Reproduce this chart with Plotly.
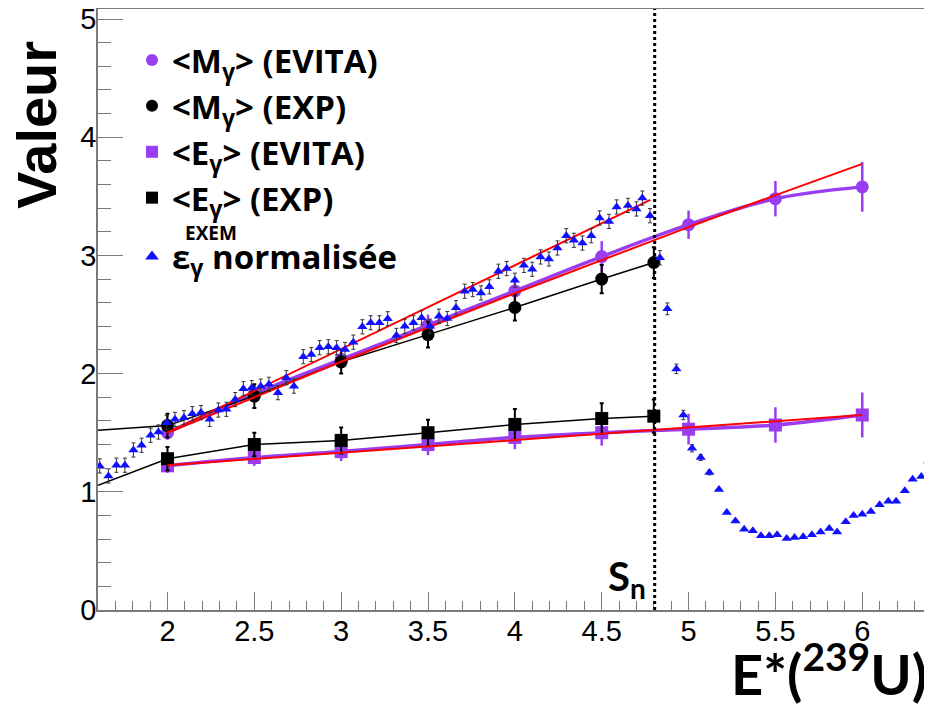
import plotly.graph_objects as go

# ---------------- data ----------------
E_evita_x = [2.0, 2.5, 3.0, 3.5, 4.0, 4.5, 5.0, 5.5, 6.0]
M_evita = [1.50, 1.83, 2.12, 2.41, 2.70, 2.99, 3.26, 3.48, 3.58]
M_evita_err = [0.06, 0.07, 0.08, 0.09, 0.10, 0.13, 0.12, 0.15, 0.21]
Eg_evita = [1.22, 1.29, 1.34, 1.40, 1.46, 1.50, 1.53, 1.565, 1.65]
Eg_evita_err = [0.06, 0.07, 0.08, 0.09, 0.10, 0.11, 0.13, 0.15, 0.19]

E_exp_x = [2.0, 2.5, 3.0, 3.5, 4.0, 4.5, 4.8]
M_exp = [1.56, 1.81, 2.10, 2.33, 2.56, 2.80, 2.94]
M_exp_err = [0.10, 0.10, 0.10, 0.11, 0.11, 0.12, 0.13]
Eg_exp = [1.28, 1.40, 1.435, 1.50, 1.57, 1.62, 1.64]
Eg_exp_err = [0.10, 0.10, 0.11, 0.11, 0.13, 0.13, 0.14]
# left extension of the EXP connecting lines
exp_line_x0 = 1.6
M_exp_y0 = 1.52
Eg_exp_y0 = 1.056

# red fits
fit_eps_x = [2.0, 4.78]
fit_eps_y = [1.50, 3.47]
fit_M_x = [2.0, 3.0, 4.0, 5.0, 6.0]
fit_M_y = [1.50, 2.10, 2.68, 3.24, 3.775]
fit_E_x = [2.0, 6.0]
fit_E_y = [1.225, 1.65]

eps_x = [1.61, 1.66, 1.706, 1.755, 1.804, 1.851, 1.903, 1.948, 1.995, 2.043, 2.095,
         2.143, 2.193, 2.243, 2.293, 2.339, 2.39, 2.437, 2.485, 2.537, 2.584, 2.636,
         2.684, 2.728, 2.782, 2.828, 2.876, 2.926, 2.974, 3.022, 3.07, 3.122, 3.17,
         3.22, 3.268, 3.318, 3.366, 3.416, 3.463, 3.511, 3.563, 3.611, 3.661, 3.711,
         3.757, 3.805, 3.853, 3.905, 3.953, 4.0, 4.052, 4.1, 4.148, 4.196, 4.245,
         4.296, 4.34, 4.389, 4.44, 4.488, 4.542, 4.586, 4.651, 4.70, 4.734, 4.778,
         4.835, 4.878, 4.93, 4.97, 5.02, 5.07, 5.12, 5.175, 5.22, 5.27, 5.32,
         5.37, 5.417, 5.465, 5.51, 5.565, 5.61, 5.66, 5.71, 5.76, 5.81, 5.855,
         5.905, 5.95, 6.0, 6.05, 6.10, 6.15, 6.195, 6.245, 6.29, 6.34, 6.38]
eps_y = [1.219, 1.134, 1.225, 1.225, 1.354, 1.394, 1.478, 1.506, 1.585, 1.613, 1.627,
         1.661, 1.67, 1.613, 1.692, 1.698, 1.78, 1.872, 1.881, 1.894, 1.909, 1.839,
         1.965, 1.894, 2.143, 2.162, 2.219, 2.227, 2.219, 2.204, 2.266, 2.396, 2.43,
         2.43, 2.464, 2.323, 2.40, 2.43, 2.472, 2.401, 2.486, 2.466, 2.557, 2.697,
         2.711, 2.683, 2.734, 2.866, 2.889, 2.79, 2.916, 2.883, 2.987, 2.97, 3.063,
         3.167, 3.128, 3.105, 3.167, 3.317, 3.288, 3.41, 3.423, 3.393, 3.485, 3.336,
         2.98, 2.548, 2.04, 1.65, 1.368, 1.29, 1.163, 1.02, 0.825, 0.754, 0.684,
         0.67, 0.628, 0.628, 0.636, 0.606, 0.614, 0.62, 0.636, 0.661, 0.69, 0.66,
         0.746, 0.80, 0.81, 0.833, 0.89, 0.92, 0.92, 1.01, 1.106, 1.13, 1.26]
eps_err = [0.06, 0.06, 0.06, 0.06, 0.06, 0.06, 0.06, 0.06, 0.06, 0.06, 0.06,
           0.06, 0.06, 0.06, 0.06, 0.06, 0.06, 0.06, 0.06, 0.06, 0.06, 0.06,
           0.06, 0.06, 0.06, 0.06, 0.06, 0.06, 0.06, 0.06, 0.06, 0.06, 0.06,
           0.06, 0.06, 0.06, 0.06, 0.06, 0.06, 0.06, 0.06, 0.06, 0.06, 0.06,
           0.06, 0.06, 0.06, 0.06, 0.06, 0.06, 0.06, 0.06, 0.06, 0.06, 0.06,
           0.06, 0.06, 0.06, 0.06, 0.06, 0.06, 0.06, 0.06, 0.06, 0.06, 0.06,
           0.06, 0.05, 0.04, 0.04, 0.03, 0.025, 0.02, 0.0, 0.0, 0.0, 0.0,
           0.0, 0.0, 0.0, 0.0, 0.0, 0.0, 0.0, 0.0, 0.0, 0.0, 0.0,
           0.0, 0.0, 0.0, 0.0, 0.0, 0.0, 0.0, 0.0, 0.0, 0.0, 0.0]

S_n = 4.805
x_ticks = [2, 2.5, 3, 3.5, 4, 4.5, 5, 5.5, 6]
y_ticks = [0, 1, 2, 3, 4, 5]

PURPLE = "#9a3cf0"
BLUE = "#1010ff"
RED = "#ff0000"
LEG_FONT = dict(family="Open Sans", size=33, color="black", weight="bold")

# figure geometry (page has an 8 px body margin)
FIG_W, FIG_H = 924, 699
ML, MR, MT, MB = 90, 2, 1, 97
PW = FIG_W - ML - MR
PH = FIG_H - MT - MB


def px(page_x):
    return (page_x - 8 - ML) / PW


def py(page_y):
    return (MT + PH - (page_y - 8)) / PH


fig = go.Figure()

# purple lines
fig.add_trace(go.Scatter(x=E_evita_x, y=M_evita, mode="lines", line=dict(color=PURPLE, width=3.5, shape="spline"), showlegend=False))
fig.add_trace(go.Scatter(x=E_evita_x, y=Eg_evita, mode="lines", line=dict(color=PURPLE, width=3.5, shape="spline"), showlegend=False))
fig.add_trace(go.Scatter(x=E_evita_x, y=M_evita, mode="markers", name="&lt;M<sub>γ</sub>&gt; (EVITA)",
                         legendgroup="a", legendrank=1,
                         marker=dict(symbol="circle", size=13, color=PURPLE),
                         error_y=dict(type="data", array=M_evita_err, color=PURPLE, thickness=2.5, width=0)))
# black lines
fig.add_trace(go.Scatter(x=[exp_line_x0] + E_exp_x, y=[M_exp_y0] + M_exp, mode="lines", line=dict(color="black", width=1.5), showlegend=False))
fig.add_trace(go.Scatter(x=[exp_line_x0] + E_exp_x, y=[Eg_exp_y0] + Eg_exp, mode="lines", line=dict(color="black", width=1.5), showlegend=False))
fig.add_trace(go.Scatter(x=E_exp_x, y=M_exp, mode="markers", name="&lt;M<sub>γ</sub>&gt; (EXP)",
                         legendgroup="a", legendrank=2,
                         marker=dict(symbol="circle", size=13, color="black"),
                         error_y=dict(type="data", array=M_exp_err, color="black", thickness=2, width=2)))
fig.add_trace(go.Scatter(x=E_evita_x, y=Eg_evita, mode="markers", name="&lt;E<sub>γ</sub>&gt; (EVITA)",
                         legendgroup="a", legendrank=3,
                         marker=dict(symbol="square", size=13, color=PURPLE),
                         error_y=dict(type="data", array=Eg_evita_err, color=PURPLE, thickness=2.5, width=0)))
fig.add_trace(go.Scatter(x=E_exp_x, y=Eg_exp, mode="markers", name="&lt;E<sub>γ</sub>&gt; (EXP)",
                         legendgroup="a", legendrank=4,
                         marker=dict(symbol="square", size=13, color="black"),
                         error_y=dict(type="data", array=Eg_exp_err, color="black", thickness=2, width=2)))
# red fits
fig.add_trace(go.Scatter(x=fit_eps_x, y=fit_eps_y, mode="lines", line=dict(color=RED, width=2), showlegend=False))
fig.add_trace(go.Scatter(x=fit_M_x, y=fit_M_y, mode="lines", line=dict(color=RED, width=2, shape="spline"), showlegend=False))
fig.add_trace(go.Scatter(x=fit_E_x, y=fit_E_y, mode="lines", line=dict(color=RED, width=2), showlegend=False))
# triangles
fig.add_trace(go.Scatter(x=eps_x, y=eps_y, mode="markers",
                         name="ε<sub>γ</sub> normalisée", legendgroup="b", legendrank=5,
                         marker=dict(symbol="triangle-up", size=9, color=BLUE),
                         error_y=dict(type="data", array=eps_err, color="#333333", thickness=1, width=2)))

# Sn dotted line
fig.add_shape(type="line", xref="x", yref="paper", x0=S_n, x1=S_n, y0=0, y1=1,
              line=dict(color="black", width=3, dash="dot"), layer="above")

fig.add_annotation(x=S_n, y=0.0, xref="x", yref="y", text="S<sub>n</sub>", showarrow=False,
                   xanchor="right", yanchor="bottom", xshift=-7, yshift=3,
                   font=dict(family="Lato", size=40, color="black", weight="bold"))
fig.add_annotation(x=px(36), y=py(125), xref="paper", yref="paper", text="Valeur",
                   textangle=-90, showarrow=False, xanchor="center", yanchor="middle",
                   font=dict(family="Liberation Sans", size=56, color="black", weight="bold"))
fig.add_annotation(x=px(929), y=py(670), xref="paper", yref="paper",
                   text="E*(<sup><span style='font-size:39px'>239</span></sup>U)",
                   showarrow=False, xanchor="right", yanchor="middle",
                   font=dict(family="Lato", size=56, color="black", weight="bold"))
fig.add_annotation(x=px(211), y=py(233), xref="paper", yref="paper", text="EXEM",
                   showarrow=False, xanchor="center", yanchor="middle",
                   font=dict(family="Open Sans", size=19, color="black", weight="bold"))

axis_common = dict(showline=True, linecolor="#7a7a7a", linewidth=1.5, mirror=True,
                   ticks="inside", tickcolor="#7a7a7a", tickwidth=1.2,
                   showgrid=False, zeroline=False, automargin=False,
                   ticklabeloverflow="allow",
                   tickfont=dict(family="Liberation Sans", size=29, color="black"))

fig.update_layout(
    width=FIG_W, height=FIG_H,
    margin=dict(l=ML, r=MR, t=MT, b=MB),
    paper_bgcolor="white", plot_bgcolor="white",
    showlegend=True,
    legend=dict(x=px(132), y=py(32), xanchor="left", yanchor="top", bgcolor="rgba(0,0,0,0)",
                font=LEG_FONT, itemsizing="constant", tracegroupgap=13, traceorder="grouped"),
    xaxis=dict(range=[1.6, 6.39], tickvals=x_ticks, ticklen=18, ticklabelstandoff=-6,
               minor=dict(dtick=0.1, ticklen=9, ticks="inside", tickcolor="#7a7a7a"),
               **axis_common),
    yaxis=dict(range=[0, 5.085], tickvals=y_ticks, ticklen=25, ticklabelstandoff=-6,
               minor=dict(dtick=0.2, ticklen=13, ticks="inside", tickcolor="#7a7a7a"),
               **axis_common),
)

fig.write_html("out.html")
